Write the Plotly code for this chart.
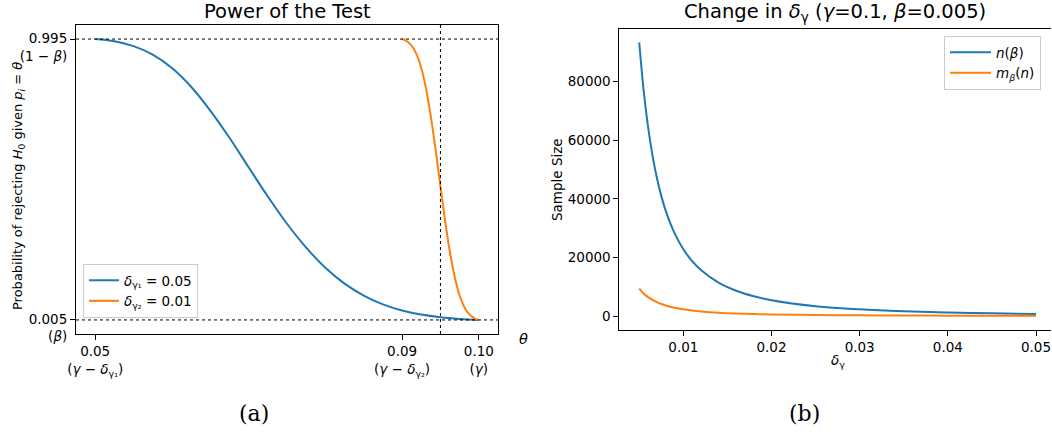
import plotly.graph_objects as go

# ---- data: left panel (power curves) ----
theta_1 = [0.050, 0.0525, 0.055, 0.0575, 0.060, 0.0625, 0.065, 0.0675, 0.070, 0.0725,
           0.075, 0.0775, 0.080, 0.0825, 0.085, 0.0875, 0.090, 0.0925, 0.095, 0.0975, 0.100]
power_1 = [0.995, 0.987, 0.970, 0.940, 0.893, 0.827, 0.743, 0.647, 0.543, 0.440,
           0.344, 0.260, 0.189, 0.133, 0.091, 0.060, 0.0385, 0.024, 0.0146, 0.0087, 0.005]

theta_2 = [0.0900, 0.0905, 0.0910, 0.0915, 0.0920, 0.0925, 0.0930, 0.0935, 0.0940, 0.0945,
           0.0950, 0.0955, 0.0960, 0.0965, 0.0970, 0.0975, 0.0980, 0.0985, 0.0990, 0.0995, 0.1000]
power_2 = [0.995, 0.9895, 0.979, 0.962, 0.934, 0.893, 0.836, 0.763, 0.676, 0.578,
           0.476, 0.375, 0.283, 0.204, 0.140, 0.091, 0.057, 0.033, 0.019, 0.010, 0.005]

# ---- data: right panel (sample sizes) ----
delta = [0.005, 0.0055, 0.006, 0.0065, 0.007, 0.0075, 0.008, 0.009, 0.010, 0.011, 0.012,
         0.014, 0.016, 0.018, 0.020, 0.025, 0.030, 0.035, 0.040, 0.045, 0.050]
n_beta = [93400, 77000, 64550, 54870, 47200, 41020, 35970, 28280, 22800, 18750, 15680,
          11400, 8640, 6755, 5413, 3370, 2272, 1618, 1198, 913, 712]
m_beta = [9340, 7700, 6455, 5487, 4720, 4102, 3597, 2828, 2280, 1875, 1568,
          1140, 864, 676, 541, 337, 227, 162, 120, 91, 71]

left_xticks = [0.05, 0.09, 0.10]
left_xticktext = ["0.05<br>(<i>γ</i> − <i>δ</i><sub>γ₁</sub>)",
                  "0.09<br>(<i>γ</i> − <i>δ</i><sub>γ₂</sub>)",
                  "0.10<br>(<i>γ</i>)"]
left_yticks = [0.005, 0.995]
left_yticktext = ["0.005<br>(<i>β</i>)", "0.995<br>(1 − <i>β</i>)"]
right_yticks = [0, 20000, 40000, 60000, 80000]
right_xticks = [0.01, 0.02, 0.03, 0.04, 0.05]

BLUE = "#1f77b4"
ORANGE = "#ff7f0e"
FONT = "DejaVu Sans"
FS = 13.5

W, H = 1052, 440
def px(x): return x / W
def py(y): return (H - y) / H

fig = go.Figure()
fig.add_trace(go.Scatter(x=theta_1, y=power_1, mode="lines", line=dict(color=BLUE, width=2, shape="spline"),
                         name="<i>δ</i><sub>γ₁</sub> = 0.05", xaxis="x", yaxis="y", legend="legend"))
fig.add_trace(go.Scatter(x=theta_2, y=power_2, mode="lines", line=dict(color=ORANGE, width=2, shape="spline"),
                         name="<i>δ</i><sub>γ₂</sub> = 0.01", xaxis="x", yaxis="y", legend="legend"))
fig.add_trace(go.Scatter(x=delta, y=n_beta, mode="lines", line=dict(color=BLUE, width=2, shape="spline"),
                         name="<i>n</i>(<i>β</i>)", xaxis="x2", yaxis="y2", legend="legend2"))
fig.add_trace(go.Scatter(x=delta, y=m_beta, mode="lines", line=dict(color=ORANGE, width=2, shape="spline"),
                         name="<i>m</i><sub><i>β</i></sub>(<i>n</i>)", xaxis="x2", yaxis="y2", legend="legend2"))

axis_common = dict(showgrid=False, zeroline=False, showline=True, linecolor="black", linewidth=1,
                   ticks="outside", ticklen=5, tickcolor="black", tickfont=dict(family=FONT, size=FS, color="black"))

fig.update_layout(
    width=W, height=H, margin=dict(l=0, r=0, t=0, b=0, pad=0), autosize=False,
    paper_bgcolor="white", plot_bgcolor="white",
    font=dict(family=FONT, size=FS, color="black"),
    xaxis=dict(domain=[px(76), px(498)], range=[0.0475, 0.1025], tickvals=left_xticks, ticktext=left_xticktext,
               mirror=True, anchor="y", automargin=False, **axis_common),
    yaxis=dict(domain=[py(334), py(25)], range=[-0.0445, 1.0445], tickvals=left_yticks, ticktext=left_yticktext,
               mirror=True, anchor="x", automargin=False, ticklabelshift=8, **axis_common),
    xaxis2=dict(domain=[px(619.4), px(1051)], range=[0.00275, 0.0517], tickvals=right_xticks,
                ticktext=["0.01", "0.02", "0.03", "0.04", "0.05"], mirror=True, anchor="y2", automargin=False,
                **axis_common),
    yaxis2=dict(domain=[py(329.7), py(28.5)], range=[-4675, 98175], tickvals=right_yticks,
                ticktext=[str(v) for v in right_yticks], anchor="x2", automargin=False, **axis_common),
    legend=dict(x=px(83), y=py(264), xanchor="left", yanchor="top", bgcolor="white",
                bordercolor="#cccccc", borderwidth=1, font=dict(family=FONT, size=FS)),
    legend2=dict(x=px(944), y=py(36), xanchor="left", yanchor="top", bgcolor="white",
                 bordercolor="#cccccc", borderwidth=1, itemwidth=41, font=dict(family=FONT, size=FS)),
    showlegend=True,
)

# reference lines
dot = dict(color="black", width=1, dash="dot")
fig.add_shape(type="line", xref="x domain", yref="y", x0=0, x1=1, y0=0.995, y1=0.995, line=dot)
fig.add_shape(type="line", xref="x domain", yref="y", x0=0, x1=1, y0=0.005, y1=0.005, line=dot)
fig.add_shape(type="line", xref="x", yref="y domain", x0=0.095, x1=0.095, y0=0, y1=1, line=dot)

def note(text, x, y, size=FS, family=FONT, angle=0):
    return dict(text=text, x=px(x), y=py(y), xref="paper", yref="paper", xanchor="center",
                yanchor="middle", showarrow=False, textangle=angle, font=dict(family=family, size=size))

ann = [
    note("Power of the Test", 287, 12, size=19.5),
    note("Change in <i>δ</i><sub>γ</sub> (<i>γ</i>=0.1, <i>β</i>=0.005)", 835, 13, size=19.5),
    note("Probability of rejecting <i>H</i><sub>0</sub> given <i>p<sub>i</sub></i> = <i>θ</i>", 18, 186, size=13,
         angle=-90),
    note("Sample Size", 557, 180, angle=-90),
    note("<i>δ</i><sub>γ</sub>", 838, 361),
    note("<i>θ</i>", 523, 339, size=14.5),
    note("(a)", 254, 413, size=22, family="DejaVu Serif"),
    note("(b)", 804, 413, size=22, family="DejaVu Serif"),
]
fig.update_layout(annotations=ann)

fig.write_html("out.html", config={"displayModeBar": False},
               post_script="document.body.style.margin='0';document.body.style.overflow='hidden';")
